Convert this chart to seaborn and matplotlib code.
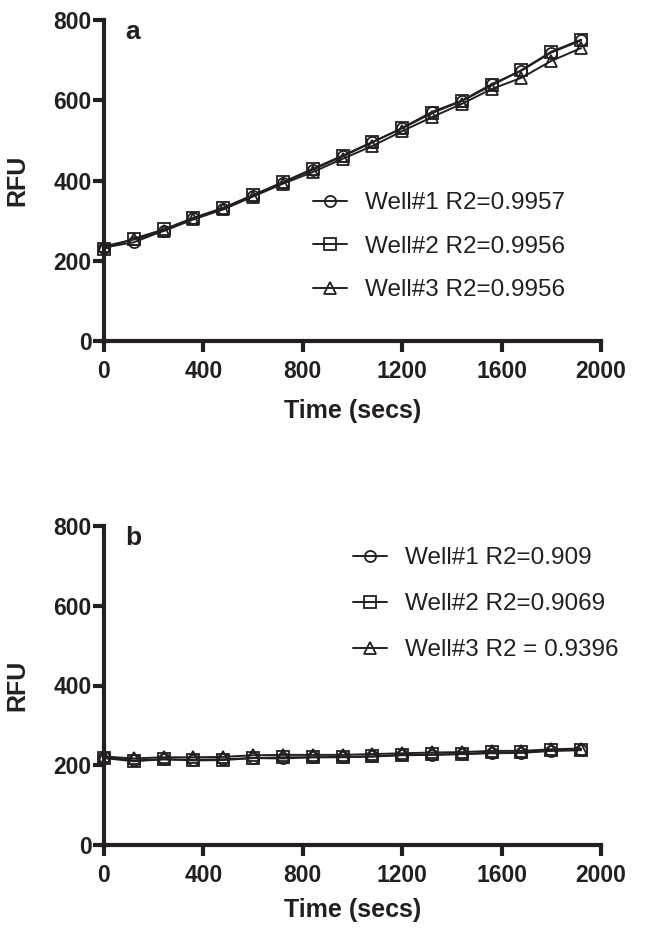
import pandas as pd
import seaborn as sns
import matplotlib.pyplot as plt

# Time points (secs)
time = [0, 120, 240, 360, 480, 600, 720, 840, 960, 1080, 1200, 1320, 1440, 1560, 1680, 1800, 1920]

# Panel a readings (RFU)
a_well1 = [233, 246, 275, 306, 329, 362, 395, 427, 460, 495, 531, 571, 599, 640, 674, 719, 749]
a_well2 = [230, 255, 278, 307, 332, 364, 396, 429, 462, 496, 530, 568, 598, 637, 675, 721, 751]
a_well3 = [236, 253, 274, 303, 328, 360, 392, 421, 454, 486, 523, 558, 591, 628, 656, 698, 730]
a_labels = ['Well#1 R2=0.9957', 'Well#2 R2=0.9956', 'Well#3 R2=0.9956']

# Panel b readings (RFU)
b_well1 = [220, 212, 215, 214, 215, 218, 217, 220, 220, 222, 225, 226, 228, 230, 231, 236, 238]
b_well2 = [218, 210, 215, 212, 213, 218, 220, 220, 221, 222, 226, 227, 228, 232, 232, 237, 238]
b_well3 = [222, 217, 220, 220, 221, 225, 226, 226, 226, 228, 230, 232, 233, 236, 236, 240, 242]
b_labels = ['Well#1 R2=0.909', 'Well#2 R2=0.9069', 'Well#3 R2 = 0.9396']

markers = ['o', 's', '^']

sns.set_theme(style='ticks')
plt.rcParams['font.family'] = ['Liberation Sans', 'DejaVu Sans']
plt.rcParams['font.weight'] = 'bold'
ink = '#231f20'

fig = plt.figure(figsize=(6.46, 9.33), dpi=100)
ax_a = fig.add_axes([104 / 646, 1 - 341 / 933, 497 / 646, 321 / 933])
ax_b = fig.add_axes([104 / 646, 1 - 845 / 933, 497 / 646, 319 / 933])


def draw_panel(ax, series, labels, letter, leg_xy, leg_space, xlab_y):
    for vals, lab, m in zip(series, labels, markers):
        df = pd.DataFrame({'Time': time, 'RFU': vals})
        sns.lineplot(data=df, x='Time', y='RFU', ax=ax, color=ink, linewidth=1.4,
                     marker=m, markersize=8, markerfacecolor='none',
                     markeredgecolor=ink, markeredgewidth=1.3, label=lab,
                     clip_on=False, zorder=3)
    ax.set_xlim(0, 2000)
    ax.set_ylim(0, 800)
    ax.set_xticks([0, 400, 800, 1200, 1600, 2000])
    ax.set_yticks([0, 200, 400, 600, 800])
    sns.despine(ax=ax)
    for s in ['left', 'bottom']:
        ax.spines[s].set_linewidth(3)
        ax.spines[s].set_color(ink)
    ax.tick_params(width=3, length=8, color=ink, labelcolor=ink, labelsize=16.5)
    ax.tick_params(axis='y', pad=1)
    ax.tick_params(axis='x', pad=6)
    ax.set_xlabel('Time (secs)', fontsize=18, fontweight='bold', color=ink)
    ax.set_ylabel('RFU', fontsize=18, fontweight='bold', color=ink)
    ax.xaxis.set_label_coords(0.5, xlab_y)
    ax.yaxis.set_label_coords(-0.15, 0.5)
    ax.text(0.042, 1.0, letter, transform=ax.transAxes, fontsize=19,
            fontweight='bold', color=ink, va='top', ha='left')
    ax.legend(loc='upper left', bbox_to_anchor=leg_xy, frameon=False,
              prop={'weight': 'normal', 'size': 17.5}, labelcolor=ink,
              handlelength=1.4, handletextpad=0.75, labelspacing=leg_space,
              borderpad=0, borderaxespad=0)


draw_panel(ax_a, [a_well1, a_well2, a_well3], a_labels, 'a', (0.42, 0.464), 0.89, -0.18)
draw_panel(ax_b, [b_well1, b_well2, b_well3], b_labels, 'b', (0.50, 0.934), 0.99, -0.165)

fig.savefig('out.png', dpi=100)
